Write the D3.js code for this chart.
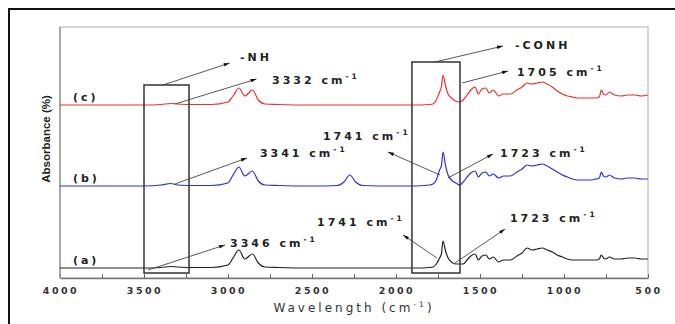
<!DOCTYPE html>
<html>
<head>
<meta charset="utf-8">
<script src="https://cdn.jsdelivr.net/npm/d3@7"></script>
<style>
  body { margin: 0; background: #fff; }
  svg { display: block; }
  .ann { font-family: "DejaVu Sans", Arial, sans-serif; font-weight: bold; font-size: 11px; fill: #222; letter-spacing: 3px; }
  .tick-lbl { font-family: "DejaVu Sans", Arial, sans-serif; font-weight: bold; font-size: 9.5px; fill: #333; letter-spacing: 2.5px; }
</style>
</head>
<body>
<svg id="chart" width="675" height="324"></svg>
<script>
// wavenumber grid (cm-1)
var wavenumbers = [4000, 3800, 3600, 3500, 3400, 3340, 3300, 3200, 3100, 3000, 2970, 2935, 2900, 2855, 2820, 2780, 2700, 2500, 2350, 2310, 2275, 2240, 2200, 2000, 1900, 1800,
  1780, 1760, 1741, 1730, 1720, 1705, 1690, 1670, 1645, 1620,
  1600, 1577, 1555, 1529, 1510, 1488, 1465, 1445, 1420, 1390, 1360, 1320, 1280, 1250, 1220, 1190, 1160, 1130, 1100, 1070, 1040, 1010, 980, 950, 920, 880, 840, 810, 790, 778, 765, 750, 730, 700, 660, 620, 580, 540, 500];
// heights above each trace's baseline
var seriesA = [0, 0, 0, 0, 0.5, 1.5, 1, 0.5, 0.5, 3, 10, 18, 9, 14, 5, 1, 0.5, 0, 0, 0, 0, 0, 0, 0, 0, 0.5,
  1, 4, 10, 14, 27, 17, 10, 6, 4, 4,
  4, 8, 12, 14, 8, 12, 13, 9, 11, 6, 8, 8, 12, 15, 20, 18, 19, 20, 18, 16, 13, 11, 9, 8, 8, 8, 8, 8, 9, 13, 10, 9, 11, 9, 9, 10, 10, 9, 9];
var seriesB = [0, 0, 0, 0, 1, 2.5, 1, 0.5, 0.5, 3, 11, 19, 10, 15, 5, 1, 0.5, 0, 0.5, 4, 11, 4, 0.5, 0, 0, 1,
  2, 6, 16, 20, 34, 20, 11, 6, 3, 1,
  4, 9, 13, 15, 9, 13, 14, 10, 12, 8, 10, 10, 14, 17, 21, 20, 21, 22, 20, 17, 14, 11, 9, 7, 6, 6, 6, 7, 8, 14, 10, 9, 11, 8, 7, 8, 8, 7, 7];
var seriesC = [0, 0, 0, 0, 0.5, 1.5, 1, 0.5, 0.5, 3, 9, 17, 9, 15, 5, 1, 0.5, 0, 0, 0, 0, 0, 0, 0, 0, 0.5,
  1, 5, 13, 18, 30, 19, 11, 7, 4, 3,
  5, 10, 15, 18, 11, 16, 17, 12, 15, 9, 11, 11, 15, 18, 22, 21, 22, 23, 21, 18, 14, 11, 9, 8, 7, 7, 7, 7, 8, 15, 11, 10, 13, 10, 9, 10, 10, 9, 10];
var seriesNames = ["(a)", "(b)", "(c)"];
var seriesColors = ["#222", "#2f2fdc", "#e8332f"];
var offsets = [10, 92, 173];
var xTicks = [4000, 3500, 3000, 2500, 2000, 1500, 1000, 500];

// annotation labels: [text, wn, y, arrowFromWn, arrowFromY, arrowToWn, arrowToY]
var labels = [
  ["-NH", 2929, 217, 3387, 193, 2990, 215],
  ["3332 cm", 2738, 194, 3316, 174, 2830, 199],
  ["-CONH", 1292, 229, 1768, 216, 1363, 232],
  ["1705 cm", 1280, 202, 1607, 195, 1333, 207],
  ["1741 cm", 2435, 138, 1738, 103, 2048, 126],
  ["1723 cm", 1381, 121, 1691, 100, 1423, 124],
  ["3341 cm", 2810, 121, 3316, 94, 2887, 120],
  ["1741 cm", 2470, 52, 1756, 20, 1958, 43],
  ["1723 cm", 1322, 56, 1649, 15, 1351, 49],
  ["3346 cm", 2988, 31, 3476, 8, 3018, 33]
];
var supLabels = [false, true, false, true, true, true, true, true, true, true];
var boxes = [[3500, 3232, 193, 5], [1905, 1619, 216, 5]];

var svg = d3.select("#chart");
var margin = { top: 27, right: 27, bottom: 46, left: 60 };
var width = 675 - margin.left - margin.right;
var height = 324 - margin.top - margin.bottom;

// outer frame (clipped on the right and bottom like the scan)
svg.append("rect")
  .attr("x", 9).attr("y", 9).attr("width", 720).attr("height", 400)
  .attr("fill", "none").attr("stroke", "#111").attr("stroke-width", 2);

var g = svg.append("g").attr("transform", "translate(" + margin.left + "," + margin.top + ")");

var xScale = d3.scaleLinear().domain([4000, 500]).range([0, width]);
var yScale = d3.scaleLinear().domain([0, height]).range([height, 0]);

// plot frame
g.append("rect")
  .attr("width", width).attr("height", height)
  .attr("fill", "none").attr("stroke", "#c8c8c8").attr("stroke-width", 1.5);

var xAxis = g.append("g")
  .attr("transform", "translate(0," + height + ")")
  .call(d3.axisBottom(xScale).tickValues(d3.range(4000, 499, -250)).tickSizeInner(-4).tickSizeOuter(0).tickFormat(""));
xAxis.select(".domain").attr("stroke", "#777").attr("stroke-width", 1.5);
xAxis.selectAll(".tick line").attr("stroke", "#666");

g.append("g").selectAll("text")
  .data(xTicks)
  .enter().append("text")
  .attr("class", "tick-lbl")
  .attr("x", function (d) { return xScale(d) + 1; })
  .attr("y", height + 16)
  .attr("text-anchor", "middle")
  .text(function (d) { return d; });

g.append("line")
  .attr("x1", 0).attr("x2", 0).attr("y1", 0).attr("y2", height)
  .attr("stroke", "#999").attr("stroke-width", 1.5);

var line = d3.line()
  .x(function (d) { return xScale(d.x); })
  .y(function (d) { return yScale(d.y); })
  .curve(d3.curveMonotoneX);

[seriesA, seriesB, seriesC].forEach(function (s, i) {
  var dataset = wavenumbers.map(function (w, j) { return { x: w, y: s[j] + offsets[i] }; });
  g.append("path")
    .datum(dataset)
    .attr("fill", "none")
    .attr("stroke", seriesColors[i])
    .attr("stroke-width", 1.2)
    .attr("d", line);
  g.append("text")
    .attr("class", "ann")
    .attr("x", xScale(3923))
    .attr("y", yScale(offsets[i] + 4))
    .text(seriesNames[i]);
});

boxes.forEach(function (b) {
  g.append("rect")
    .attr("x", xScale(b[0])).attr("y", yScale(b[2]))
    .attr("width", xScale(b[1]) - xScale(b[0]))
    .attr("height", yScale(b[3]) - yScale(b[2]))
    .attr("fill", "none").attr("stroke", "#333").attr("stroke-width", 1.5);
});

svg.append("defs").append("marker")
  .attr("id", "head").attr("viewBox", "0 0 10 6")
  .attr("refX", 10).attr("refY", 3)
  .attr("markerWidth", 10).attr("markerHeight", 4)
  .attr("orient", "auto")
  .append("path").attr("d", "M0,0L10,3L0,6Z").attr("fill", "#111");

labels.forEach(function (l, i) {
  g.append("line")
    .attr("x1", xScale(l[3])).attr("y1", yScale(l[4]))
    .attr("x2", xScale(l[5])).attr("y2", yScale(l[6]))
    .attr("stroke", "#444").attr("stroke-width", 0.9)
    .attr("marker-end", "url(#head)");
  var t = g.append("text")
    .attr("class", "ann")
    .attr("x", xScale(l[1]))
    .attr("y", yScale(l[2]))
    .text(l[0]);
  if (supLabels[i]) {
    t.append("tspan").attr("dy", -5).style("font-size", "7.5px").text("-1");
  }
});

svg.append("text")
  .attr("transform", "translate(50," + (margin.top + 112) + ")rotate(-90)")
  .attr("text-anchor", "middle")
  .style("font-family", "'Liberation Sans Narrow', 'Liberation Sans', sans-serif")
  .style("font-size", "11.5px")
  .style("font-weight", "bold")
  .style("fill", "#222")
  .text("Absorbance (%)");

var xl = svg.append("text")
  .attr("x", margin.left + width / 2)
  .attr("y", 312)
  .attr("text-anchor", "middle")
  .style("font-family", "'DejaVu Sans', Arial, sans-serif")
  .style("font-size", "12px")
  .style("letter-spacing", "3px")
  .style("fill", "#333")
  .text("Wavelength (cm");
xl.append("tspan").attr("dy", -5).style("font-size", "7.5px").text("-1");
xl.append("tspan").attr("dy", 5).text(")");
</script>
</body>
</html>
